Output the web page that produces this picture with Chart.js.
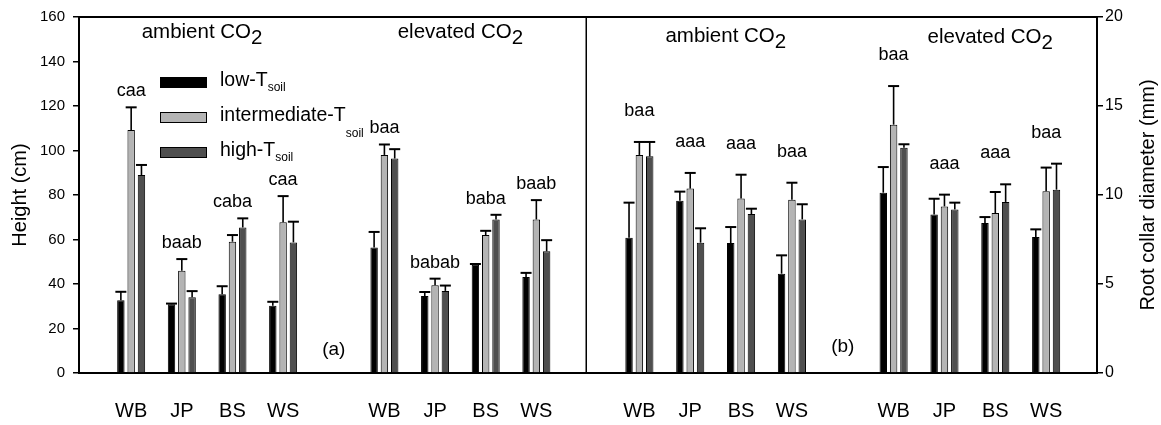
<!DOCTYPE html>
<html>
<head>
<meta charset="utf-8">
<script src="https://cdn.jsdelivr.net/npm/chart.js@4.4.1/dist/chart.umd.min.js"></script>
<style>
  body { margin: 0; background: #fff; }
  #wrap { position: relative; width: 1161px; height: 425px; }
  #left { position: absolute; left: 0; top: 0; }
  #right { position: absolute; left: 587px; top: 0; }
</style>
</head>
<body>
<div id="wrap">
  <canvas id="left" width="587" height="425"></canvas>
  <canvas id="right" width="574" height="425"></canvas>
</div>
<script>
const species = ['WB', 'JP', 'BS', 'WS', 'WB', 'JP', 'BS', 'WS'];
const slots = [0, 1, 2, 3, 5, 6, 7, 8]; // ambient group, gap, elevated group

// (a) height, cm
const heightLow = [32.7, 30.9, 35.4, 30.2, 56.4, 34.6, 48.7, 43.2];
const heightLowSE = [3.8, 0.3, 3.6, 1.8, 7.0, 1.8, 0.3, 1.8];
const heightMid = [109.2, 45.9, 59.0, 67.7, 98.0, 39.4, 62.0, 69.0];
const heightMidSE = [10.2, 5.3, 3.0, 11.8, 4.7, 3.0, 1.9, 8.7];
const heightHigh = [89.0, 34.0, 65.4, 58.7, 96.4, 36.9, 69.0, 54.7];
const heightHighSE = [4.5, 2.8, 4.1, 9.3, 4.2, 2.4, 2.1, 5.0];
const heightLetters = ['caa', 'baab', 'caba', 'caa', 'baa', 'babab', 'baba', 'baab'];

// (b) root collar diameter, mm
const diamLow = [7.60, 9.68, 7.30, 5.58, 10.13, 8.90, 8.43, 7.64];
const diamLowSE = [1.97, 0.51, 0.90, 1.03, 1.44, 0.89, 0.33, 0.43];
const diamMid = [12.25, 10.36, 9.81, 9.74, 13.95, 9.36, 8.99, 10.21];
const diamMidSE = [0.73, 0.88, 1.33, 0.95, 2.17, 0.66, 1.18, 1.33];
const diamHigh = [12.17, 7.32, 8.93, 8.63, 12.66, 9.19, 9.61, 10.30];
const diamHighSE = [0.81, 0.81, 0.30, 0.85, 0.19, 0.38, 0.99, 1.46];
const diamLetters = ['baa', 'aaa', 'aaa', 'baa', 'baa', 'aaa', 'aaa', 'baa'];

const heightTicks = [0, 20, 40, 60, 80, 100, 120, 140, 160];
const diamTicks = [0, 5, 10, 15, 20];

const FONT = '"Liberation Sans", Arial, Helvetica, sans-serif';
Chart.defaults.font.family = FONT;
Chart.defaults.color = '#000';

const fills = ['#000000', '#b4b4b4', '#4f4f4f'];
const seriesNames = ['low-T', 'intermediate-T', 'high-T'];

function makeDatasets(lists, ses) {
  return lists.map((vals, k) => ({
    label: seriesNames[k] + 'soil',
    data: slots.map((x, i) => ({ x: x, y: vals[i] })),
    se: ses[k],
    backgroundColor: fills[k],
    borderColor: '#000',
    borderWidth: 1,
    categoryPercentage: 0.61,
    barPercentage: 0.72
  }));
}

// text with a lowered subscript
function drawSub(ctx, main, sub, x, cy, size, subSize, dy, align) {
  ctx.font = size + 'px ' + FONT;
  const w1 = ctx.measureText(main).width;
  ctx.font = subSize + 'px ' + FONT;
  const w2 = ctx.measureText(sub).width;
  let x0 = align === 'center' ? x - (w1 + w2) / 2 : x;
  ctx.textAlign = 'left';
  ctx.textBaseline = 'middle';
  ctx.font = size + 'px ' + FONT;
  ctx.fillText(main, x0, cy);
  ctx.font = subSize + 'px ' + FONT;
  ctx.fillText(sub, x0 + w1, cy + dy);
}

const errorBars = {
  id: 'errorBars',
  afterDatasetsDraw(chart) {
    const ctx = chart.ctx;
    const y = chart.scales.y;
    ctx.save();
    ctx.strokeStyle = '#000';
    chart.data.datasets.forEach((ds, di) => {
      chart.getDatasetMeta(di).data.forEach((bar, i) => {
        const top = y.getPixelForValue(ds.data[i].y + ds.se[i]);
        const x = bar.x;
        ctx.lineWidth = 1.6;
        ctx.beginPath();
        ctx.moveTo(x, bar.y);
        ctx.lineTo(x, top);
        ctx.stroke();
        ctx.lineWidth = 2;
        ctx.beginPath();
        ctx.moveTo(x - 5.5, top);
        ctx.lineTo(x + 5.5, top);
        ctx.stroke();
      });
    });
    ctx.restore();
  }
};

const decor = {
  id: 'decor',
  afterDraw(chart, args, o) {
    const ctx = chart.ctx;
    const a = chart.chartArea;
    const xs = chart.scales.x;
    const ys = chart.scales.y;
    ctx.save();
    ctx.fillStyle = '#000';
    ctx.strokeStyle = '#000';

    // frame top
    ctx.lineWidth = 2;
    ctx.beginPath();
    ctx.moveTo(a.left - 1, a.top);
    ctx.lineTo(a.right + 1, a.top);
    ctx.stroke();
    if (o.divider) {
      ctx.lineWidth = 1.5;
      ctx.beginPath();
      ctx.moveTo(a.right - 0.75, a.top);
      ctx.lineTo(a.right - 0.75, a.bottom);
      ctx.stroke();
    }

    // group titles
    o.titles.forEach(t => {
      drawSub(ctx, t.text, '2', xs.getPixelForValue(t.x), a.top + t.dy, 20.5, 20.5, 6, 'center');
    });

    // significance letters above the highest error bar of each group
    ctx.font = '18px ' + FONT;
    ctx.textAlign = 'center';
    ctx.textBaseline = 'middle';
    o.letters.forEach((txt, i) => {
      let top = Infinity;
      chart.data.datasets.forEach(ds => {
        top = Math.min(top, ys.getPixelForValue(ds.data[i].y + ds.se[i]));
      });
      ctx.fillText(txt, xs.getPixelForValue(slots[i]), top - o.letterGap);
    });

    // panel tag
    ctx.font = '19px ' + FONT;
    ctx.fillText(o.tag, xs.getPixelForValue(4), a.bottom - o.tagDy);

    if (o.legend) {
      fills.forEach((c, k) => {
        const by = 77 + 35 * k;
        ctx.fillStyle = c;
        ctx.fillRect(160, by, 47, 11);
        ctx.lineWidth = 1;
        ctx.strokeRect(160.5, by + 0.5, 46, 10);
        ctx.fillStyle = '#000';
        drawSub(ctx, seriesNames[k], 'soil', 220, by + 3.5, 19.5, 12, k === 1 ? 18 : 7, 'left');
      });
    }

    if (o.sideTitle) {
      ctx.save();
      ctx.translate(o.sideTitle.x, (a.top + a.bottom) / 2);
      ctx.rotate(-Math.PI / 2);
      ctx.font = '20px ' + FONT;
      ctx.textAlign = 'center';
      ctx.textBaseline = 'middle';
      ctx.fillText(o.sideTitle.text, 0, 0);
      ctx.restore();
    }
    ctx.restore();
  }
};

function xAxis() {
  return {
    type: 'linear',
    offset: false,
    min: -1.03,
    max: 9,
    grid: { display: false, drawTicks: false, offset: false },
    border: { display: true, width: 2, color: '#000' },
    afterBuildTicks: s => { s.ticks = slots.map(v => ({ value: v })); },
    ticks: {
      autoSkip: false,
      maxRotation: 0,
      font: { size: 20 },
      color: '#000',
      padding: 26,
      callback: (v, i) => species[i]
    },
    afterFit: s => { s.height = 52; }
  };
}

new Chart(document.getElementById('left'), {
  type: 'bar',
  data: { datasets: makeDatasets([heightLow, heightMid, heightHigh], [heightLowSE, heightMidSE, heightHighSE]) },
  plugins: [errorBars, decor],
  options: {
    responsive: false,
    animation: false,
    devicePixelRatio: 1,
    layout: { padding: { top: 17, right: 0, bottom: 0, left: 0 } },
    plugins: {
      legend: { display: false },
      tooltip: { enabled: false },
      decor: {
        divider: true,
        legend: true,
        titles: [{ text: 'ambient CO', x: 1.4, dy: 15 }, { text: 'elevated CO', x: 6.5, dy: 15 }],
        letters: heightLetters,
        letterGap: 16,
        tag: '(a)',
        tagDy: 23
      }
    },
    scales: {
      x: xAxis(),
      y: {
        min: 0,
        max: 160,
        afterBuildTicks: s => { s.ticks = heightTicks.map(v => ({ value: v })); },
        grid: { display: true, drawOnChartArea: false, drawTicks: true, tickLength: 6, color: '#000', lineWidth: 1.5 },
        border: { display: true, width: 2, color: '#000' },
        ticks: { font: { size: 15 }, color: '#000', padding: 8 },
        title: { display: true, text: 'Height (cm)', font: { size: 20 }, color: '#000', padding: { top: 8, bottom: 0 } },
        afterFit: s => { s.width = 79; }
      }
    }
  }
});

new Chart(document.getElementById('right'), {
  type: 'bar',
  data: { datasets: makeDatasets([diamLow, diamMid, diamHigh], [diamLowSE, diamMidSE, diamHighSE]) },
  plugins: [errorBars, decor],
  options: {
    responsive: false,
    animation: false,
    devicePixelRatio: 1,
    layout: { padding: { top: 17, right: 0, bottom: 0, left: 0 } },
    plugins: {
      legend: { display: false },
      tooltip: { enabled: false },
      decor: {
        divider: false,
        legend: false,
        titles: [{ text: 'ambient CO', x: 1.7, dy: 19 }, { text: 'elevated CO', x: 6.9, dy: 20 }],
        letters: diamLetters,
        letterGap: 31,
        tag: '(b)',
        tagDy: 26,
        sideTitle: { text: 'Root collar diameter (mm)', x: 561 }
      }
    },
    scales: {
      x: xAxis(),
      y: {
        position: 'right',
        min: 0,
        max: 20,
        afterBuildTicks: s => { s.ticks = diamTicks.map(v => ({ value: v })); },
        grid: { display: true, drawOnChartArea: false, drawTicks: true, tickLength: 6, color: '#000', lineWidth: 1.5 },
        border: { display: true, width: 2, color: '#000' },
        ticks: { font: { size: 16 }, color: '#000', padding: 2 },
        afterFit: s => { s.width = 64; }
      }
    }
  }
});
</script>
</body>
</html>
